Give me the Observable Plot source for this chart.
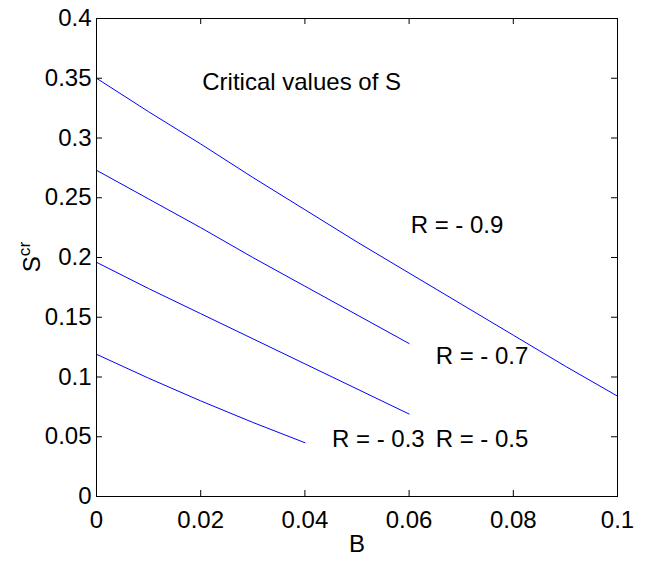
<!DOCTYPE html>
<html><head><meta charset="utf-8">
<script src="https://cdn.jsdelivr.net/npm/d3@7"></script>
<script src="https://cdn.jsdelivr.net/npm/@observablehq/plot@0.6"></script>
<style>body{margin:0;background:#fff}</style>
</head><body><div id="chart"></div>
<script>
// Series values
const B_r09 = [0, 0.01, 0.02, 0.03, 0.04, 0.05, 0.06, 0.07, 0.08, 0.09, 0.1];
const S_r09 = [0.350, 0.322, 0.295, 0.267, 0.240, 0.213, 0.187, 0.161, 0.135, 0.109, 0.084];
const B_r07 = [0, 0.01, 0.02, 0.03, 0.04, 0.05, 0.06];
const S_r07 = [0.273, 0.249, 0.225, 0.200, 0.176, 0.152, 0.128];
const B_r05 = [0, 0.01, 0.02, 0.03, 0.04, 0.05, 0.06];
const S_r05 = [0.196, 0.174, 0.153, 0.132, 0.111, 0.090, 0.069];
const B_r03 = [0, 0.01, 0.02, 0.03, 0.04];
const S_r03 = [0.119, 0.099, 0.080, 0.062, 0.045];

// Annotations (text placed in data coordinates, as in the original)
const labelText = ["Critical values of S", "R = - 0.9", "R = - 0.7", "R = - 0.3", "R = - 0.5"];
const labelB    = [0.0203, 0.0603, 0.0651, 0.0452, 0.0651];
const labelS    = [0.3465, 0.2270, 0.1170, 0.0480, 0.0480];

// Ticks
const xTicks = [0, 0.02, 0.04, 0.06, 0.08, 0.1];
const xTickLabels = ["0", "0.02", "0.04", "0.06", "0.08", "0.1"];
const yTicks = [0, 0.05, 0.1, 0.15, 0.2, 0.25, 0.3, 0.35, 0.4];
const yTickLabels = ["0", "0.05", "0.1", "0.15", "0.2", "0.25", "0.3", "0.35", "0.4"];

const series = [
  {R: "-0.9", B: B_r09, S: S_r09},
  {R: "-0.7", B: B_r07, S: S_r07},
  {R: "-0.5", B: B_r05, S: S_r05},
  {R: "-0.3", B: B_r03, S: S_r03}
];
const rows = series.flatMap(s => s.B.map((b, i) => ({R: s.R, B: b, S: s.S[i]})));
const labels = labelText.map((t, i) => ({text: t, B: labelB[i], S: labelS[i]}));

const FS = 24;
const font = "'Liberation Sans', Arial, Helvetica, sans-serif";
const W = 649, H = 562, mL = 96, mR = 32, mT = 18, mB = 66;
const fw = W - mL - mR, fh = H - mT - mB;
const tk = 6;

const plot = Plot.plot({
  width: W, height: H,
  marginLeft: mL, marginRight: mR, marginTop: mT, marginBottom: mB,
  style: {fontSize: FS + "px", fontFamily: font, color: "black", background: "white"},
  x: {domain: [0, 0.1]},
  y: {domain: [0, 0.4]},
  marks: [
    Plot.axisX({ticks: xTicks, tickSize: 0, tickPadding: 14, tickFormat: d => xTickLabels[xTicks.indexOf(d)], label: null}),
    Plot.axisY({ticks: yTicks, tickSize: 0, tickPadding: 5, tickFormat: d => yTickLabels[yTicks.indexOf(d)], label: null}),
    Plot.tickX(xTicks, {x: d => d, insetTop: fh - tk, stroke: "black"}),
    Plot.tickX(xTicks, {x: d => d, insetBottom: fh - tk, stroke: "black"}),
    Plot.tickY(yTicks, {y: d => d, insetRight: fw - tk, stroke: "black"}),
    Plot.tickY(yTicks, {y: d => d, insetLeft: fw - tk, stroke: "black"}),
    Plot.line(rows, {x: "B", y: "S", z: "R", stroke: "#0000ff", strokeWidth: 1}),
    Plot.text(labels, {x: "B", y: "S", text: "text", textAnchor: "start", fontSize: FS, fill: "black"}),
    Plot.text(["B"], {frameAnchor: "bottom", dy: 55, text: d => d, fontSize: FS, fill: "black"}),
    Plot.frame({stroke: "black", strokeWidth: 1})
  ]
});

// y-axis label with superscript
const svg = d3.select(plot);
const yl = svg.append("text")
  .attr("transform", `translate(40,${mT + fh / 2}) rotate(-90)`)
  .attr("text-anchor", "middle")
  .attr("font-size", FS)
  .attr("font-family", font)
  .attr("fill", "black");
yl.append("tspan").text("S");
yl.append("tspan").attr("font-size", FS * 0.72).attr("dy", -FS * 0.42).text("cr");

document.getElementById("chart").appendChild(plot);
</script>
</body></html>
